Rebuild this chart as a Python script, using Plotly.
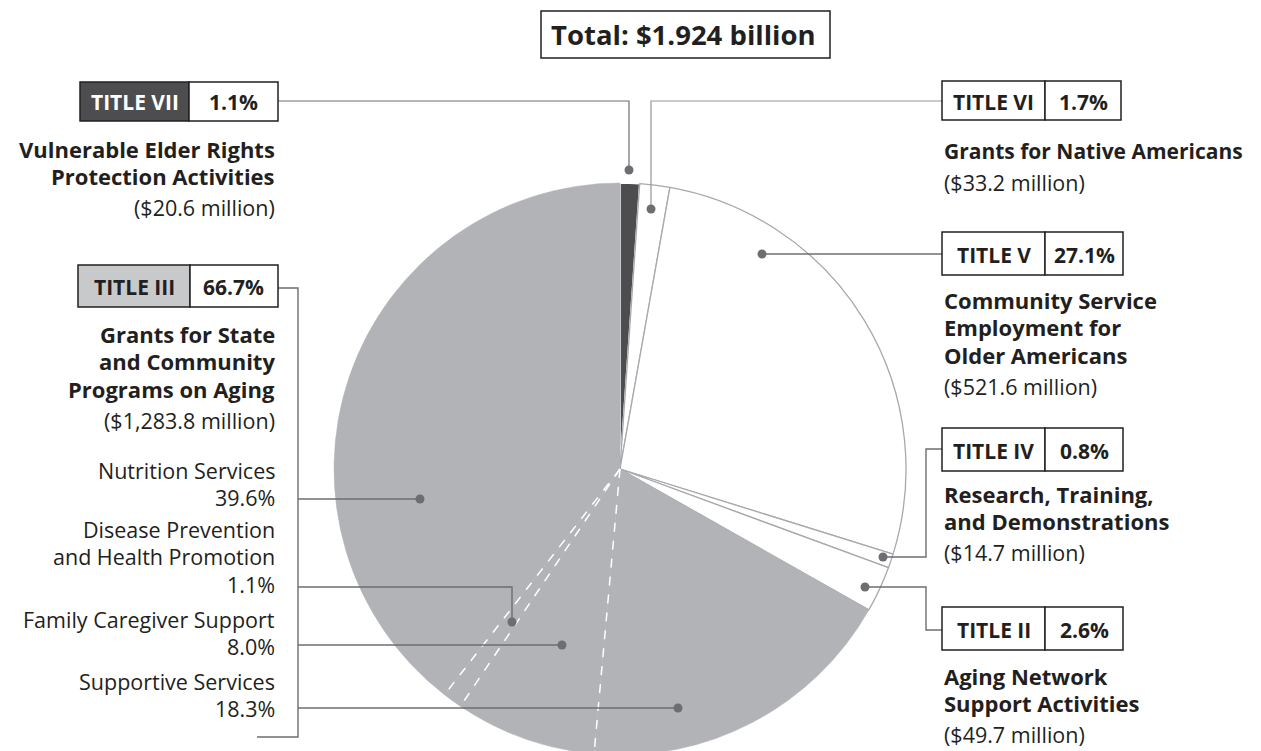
import math
import plotly.graph_objects as go

# ---------------- data ----------------
slice_labels = ["TITLE VII", "TITLE VI", "TITLE V", "TITLE IV", "TITLE II",
                "Supportive Services", "Family Caregiver Support",
                "Disease Prevention and Health Promotion", "Nutrition Services"]
slice_values = [1.1, 1.7, 27.1, 0.8, 2.6, 18.3, 8.0, 1.1, 39.6]

title_codes = ["TITLE VII", "TITLE VI", "TITLE V", "TITLE IV", "TITLE II", "TITLE III"]
title_pcts = ["1.1%", "1.7%", "27.1%", "0.8%", "2.6%", "66.7%"]
title_names = [
    ["Vulnerable Elder Rights", "Protection Activities"],
    ["Grants for Native Americans"],
    ["Community Service", "Employment for", "Older Americans"],
    ["Research, Training,", "and Demonstrations"],
    ["Aging Network", "Support Activities"],
    ["Grants for State", "and Community", "Programs on Aging"],
]
title_amounts = ["($20.6 million)", "($33.2 million)", "($521.6 million)",
                 "($14.7 million)", "($49.7 million)", "($1,283.8 million)"]

sub_names = [["Nutrition Services"], ["Disease Prevention", "and Health Promotion"],
             ["Family Caregiver Support"], ["Supportive Services"]]
sub_pcts = ["39.6%", "1.1%", "8.0%", "18.3%"]

total_text = "Total: $1.924 billion"

# ---------------- style / layout ----------------
OFF = 8                      # page margin around the figure
WF, HF = 1250, 770           # figure size (bottom of pie runs off the window)
FONT = "Open Sans"
TXT = "#231f20"
GRAY = "#b1b3b6"
DARK = "#4d4d4f"
LIGHT = "#c8c9cb"
OUTLINE = "#a7a9ac"
LEADER = "#6d6e71"

CX, CY, R = 620, 469, 286


def X(px):
    return (px - OFF) / WF


def Y(py):
    return 1 - (py - OFF) / HF


slice_colors = [DARK, "white", "white", "white", "white", GRAY, GRAY, GRAY, GRAY]
line_colors = ["white", OUTLINE, OUTLINE, OUTLINE, OUTLINE, GRAY, GRAY, GRAY, GRAY]
line_widths = [1.5, 1.3, 1.3, 1.3, 1.3, 0.5, 0.5, 0.5, 0.5]

fig = go.Figure()
fig.add_trace(go.Pie(
    labels=slice_labels, values=slice_values, sort=False, direction="clockwise",
    rotation=0, textinfo="none", hoverinfo="label+value", showlegend=False,
    marker=dict(colors=slice_colors, line=dict(color=line_colors, width=line_widths)),
    domain=dict(x=[X(CX - R), X(CX + R)], y=[Y(CY + R), Y(CY - R)]),
))

shapes = []
annotations = []

# dashed white separators between Title III components (computed from data)
total = sum(slice_values)
cum = 0
bounds = []
for v in slice_values:
    cum += v
    bounds.append(cum / total * 2 * math.pi)
for i in (5, 6, 7):
    a = bounds[i]
    ex, ey = CX + R * math.sin(a), CY - R * math.cos(a)
    shapes.append(dict(type="line", xref="paper", yref="paper", x0=X(CX), y0=Y(CY),
                       x1=X(ex), y1=Y(ey), line=dict(color="white", width=1.5, dash="dash"),
                       layer="above"))


def poly(pts, color=LEADER, width=1.4):
    d = "M " + " L ".join(f"{X(px):.5f},{Y(py):.5f}" for px, py in pts)
    shapes.append(dict(type="path", xref="paper", yref="paper", path=d,
                       line=dict(color=color, width=width), layer="above"))


def dot(px, py, r=4.5):
    shapes.append(dict(type="circle", xref="paper", yref="paper",
                       x0=X(px - r), x1=X(px + r), y0=Y(py - r), y1=Y(py + r),
                       fillcolor=LEADER, line=dict(width=0), layer="above"))


def text(px, py, s, size=20, bold=False, anchor="left", color=TXT):
    annotations.append(dict(xref="paper", yref="paper", x=X(px), y=Y(py),
                            text=f"<b>{s}</b>" if bold else s, showarrow=False,
                            xanchor=anchor, yanchor="middle",
                            font=dict(family=FONT, size=size, color=color)))


def box(x0, xm, x1, y0, y1, code, pct, left_fill, left_color):
    shapes.append(dict(type="rect", xref="paper", yref="paper", x0=X(x0), x1=X(xm),
                       y0=Y(y1), y1=Y(y0), fillcolor=left_fill,
                       line=dict(color=TXT, width=1.5), layer="above"))
    shapes.append(dict(type="rect", xref="paper", yref="paper", x0=X(xm), x1=X(x1),
                       y0=Y(y1), y1=Y(y0), fillcolor="white",
                       line=dict(color=TXT, width=1.5), layer="above"))
    text((x0 + xm) / 2, (y0 + y1) / 2 + 1, code, size=21, bold=True, anchor="center", color=left_color)
    text((xm + x1) / 2, (y0 + y1) / 2 + 1, pct, size=21, bold=True, anchor="center")


# leader lines
poly([(278, 101), (629, 101), (629, 170)], width=1.2)
dot(629, 170)
poly([(942, 101), (651, 101), (651, 209)], color="#939598", width=1.2)
dot(651, 209)
poly([(942, 254), (762, 254)])
dot(762, 254)
poly([(942, 449), (926, 449), (926, 557), (883, 557)])
dot(883, 557)
poly([(942, 630), (926, 630), (926, 587), (865, 587)])
dot(865, 587)
poly([(278, 288), (298, 288), (298, 737), (257, 737)])
poly([(298, 499), (420, 499)])
dot(420, 499)
poly([(298, 587), (512, 587), (512, 622)])
dot(512, 622)
poly([(298, 645), (562, 645)])
dot(562, 645)
poly([(298, 708), (678, 708)])
dot(678, 708)

# total box
shapes.append(dict(type="rect", xref="paper", yref="paper", x0=X(541), x1=X(830),
                   y0=Y(58), y1=Y(11), fillcolor="white",
                   line=dict(color=TXT, width=1.5), layer="above"))
text(683, 34, total_text, size=27.5, bold=True, anchor="center")

# title boxes
box_geom = [
    (80, 189, 278, 82, 121, DARK, "white"),
    (942, 1045, 1121, 81, 120, "white", TXT),
    (942, 1045, 1123, 232, 275, "white", TXT),
    (942, 1045, 1123, 428, 471, "white", TXT),
    (942, 1045, 1123, 607, 650, "white", TXT),
    (78, 190, 278, 265, 307, LIGHT, TXT),
]
for (x0, xm, x1, y0, y1, lf, lc), code, pct in zip(box_geom, title_codes, title_pcts):
    box(x0, xm, x1, y0, y1, code, pct, lf, lc)

# title descriptions
desc_pos = [(277, "right", 149), (942, "left", 151), (942, "left", 300),
            (942, "left", 494), (942, "left", 676), (277, "right", 334)]
for (px, anc, py), names, amt in zip(desc_pos, title_names, title_amounts):
    for i, line in enumerate(names):
        size = 22 if len(line) < 24 else 21
        text(px, py + i * 27.3, line, size=size, bold=True, anchor=anc)
    text(px, py + (len(names) - 1) * 27.3 + 31.5, amt, size=21.5, anchor=anc)

# Title III components
sub_pos = [470, 529, 619, 681]
for py, names, pct in zip(sub_pos, sub_names, sub_pcts):
    lines = names + [pct]
    for i, line in enumerate(lines):
        text(277, py + i * 27.5, line, size=21.5, anchor="right")

fig.update_layout(
    width=WF, height=HF, margin=dict(l=0, r=0, t=0, b=0),
    paper_bgcolor="white", plot_bgcolor="white",
    shapes=shapes, annotations=annotations, showlegend=False,
)

fig.write_html("out.html")
